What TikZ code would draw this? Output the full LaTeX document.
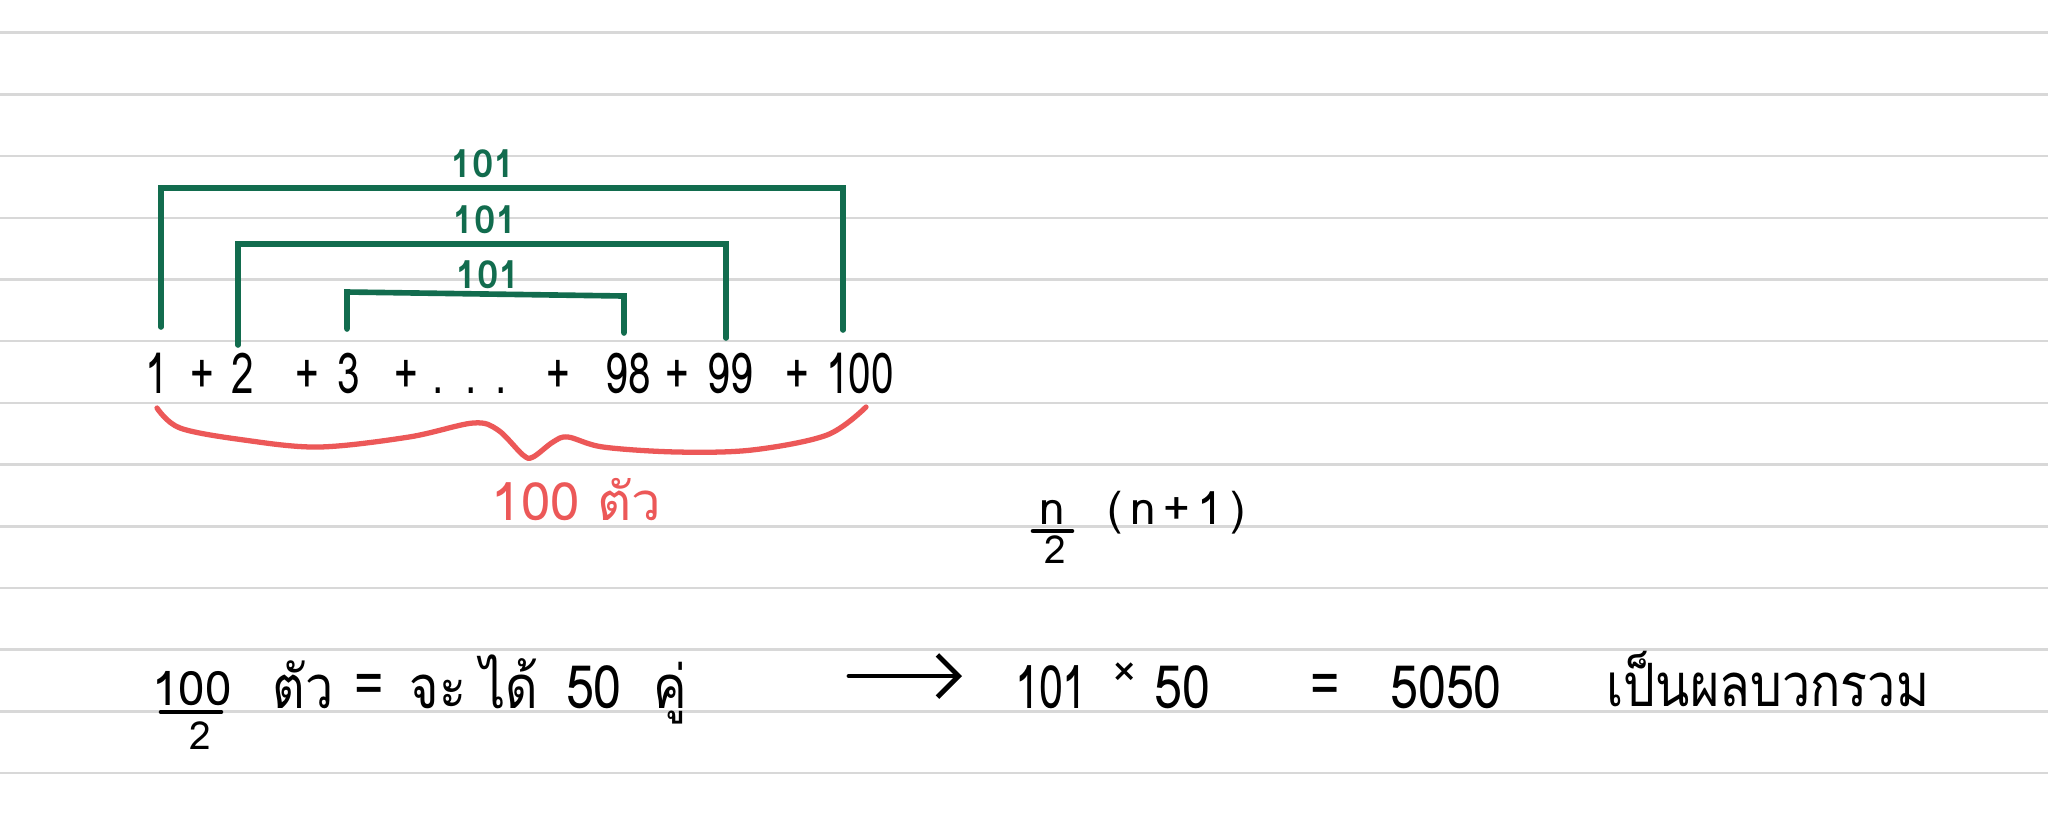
\documentclass[tikz,border=0pt]{standalone}
\usepackage{fontspec}
\setmainfont{Loma}[Script=Thai]
\newfontfamily\narrowfont{Loma}[Script=Thai,FakeStretch=0.72]
\newfontfamily\semifont{Loma}[Script=Thai,FakeStretch=0.84]
\usetikzlibrary{arrows.meta}
\definecolor{rulegray}{RGB}{216,216,216}
\definecolor{pgreen}{RGB}{18,108,78}
\definecolor{pred}{RGB}{236,88,88}
\begin{document}
\begin{tikzpicture}[x=0.01cm,y=-0.01cm,
  every node/.style={inner sep=0pt},
  term/.style={anchor=base,font=\narrowfont\fontsize{16}{16}\selectfont},
  lab/.style={anchor=base,text=pgreen,font=\fontsize{11}{11}\selectfont\bfseries},
  big/.style={anchor=base,font=\semifont\fontsize{17}{17}\selectfont},
  mid/.style={anchor=base,font=\fontsize{13}{13}\selectfont},
  small/.style={anchor=base,font=\fontsize{11}{11}\selectfont},
  bracket/.style={draw=pgreen,line width=1.6pt,line cap=round,line join=miter},
  fracbar/.style={draw=black,line width=1.3pt,line cap=round}]
\useasboundingbox[fill=white] (0,0) rectangle (2048,826);
\foreach \k in {0,...,12}
  \draw[rulegray,line width=0.7pt] (0,32.7+61.7*\k) -- (2048,32.7+61.7*\k);

% the sum
\node[term] (t1)   at (157,393) {1};
\node[term] (p1)   at (202,393) {+};
\node[term] (t2)   at (243,393) {2};
\node[term] (p2)   at (307,393) {+};
\node[term] (t3)   at (349,393) {3};
\node[term] (p3)   at (406,393) {+};
\node[term] (d1)   at (438,393) {.};
\node[term] (d2)   at (471,393) {.};
\node[term] (d3)   at (501,393) {.};
\node[term] (p4)   at (558,393) {+};
\node[term] (t98)  at (628,393) {98};
\node[term] (p5)   at (677,393) {+};
\node[term] (t99)  at (730,393) {99};
\node[term] (p6)   at (797,393) {+};
\node[term] (t100) at (860,393) {100};

% green pair brackets
\coordinate (oL) at (161,327); \coordinate (oT) at (843,188); \coordinate (oR) at (843,330);
\coordinate (mL) at (238,345); \coordinate (mT) at (726,244); \coordinate (mR) at (726,338);
\coordinate (iL) at (347,329); \coordinate (iTL) at (347,292); \coordinate (iTR) at (624,296); \coordinate (iR) at (624,333);
\draw[bracket] (oL) |- (oT) -- (oR);
\draw[bracket] (mL) |- (mT) -- (mR);
\draw[bracket] (iL) -- (iTL) -- (iTR) -- (iR);
\node[lab] (l1) at (483,177) {101};
\node[lab] (l2) at (485,233) {101};
\node[lab] (l3) at (488,288) {101};

% red brace
\draw[pred,line width=1.5pt,line cap=round] plot[smooth,tension=0.55] coordinates {
  (157,408) (180,428) (244,440) (319,447) (409,437) (473,423) (498,430)
  (523,455) (533,457) (553,442) (568,437) (603,447) (677,452) (752,450)
  (827,435) (866,407)};
\node[anchor=base west,text=pred,font=\fontsize{15}{15}\selectfont] (cnt) at (491,520) {100 ตัว};

% n/2 (n+1)
\node[mid] (fn) at (1052,524) {n};
\draw[fracbar] (1033,531) -- (1072,531);
\node[small] (fd) at (1055,563) {2};
\node[mid,anchor=base west] (np) at (1107,524) {(\,n\,+\,1\,)};

% bottom line
\node[anchor=base,font=\fontsize{13.5}{13.5}\selectfont] (bn) at (192,705) {100};
\draw[fracbar] (161,712) -- (221,712);
\node[small] (bd) at (200,749) {2};
\node[big] (tua) at (303,708) {ตัว};
\node[big] (eq1) at (369,704) {=};
\node[big] (jd) at (474,708) {จะ\hspace{4pt}ได้};
\node[big] (f50) at (594,708) {50};
\node[big] (ku) at (670,708) {คู่};
\coordinate (ar0) at (849,676); \coordinate (ar1) at (962,676);
\draw[line width=1.4pt,line cap=round,-{Straight Barb[length=6pt,width=12pt]}] (ar0) -- (ar1);
\node[term,font=\narrowfont\fontsize{17}{17}\selectfont] (r101) at (1051,708) {101};
\node[anchor=base] (tim) at (1125,686) {\fontsize{12}{12}\selectfont ×};
\node[big] (r50) at (1182,708) {50};
\node[big] (eq2) at (1325,704) {=};
\node[big] (r5050) at (1446,708) {5050};
\node[big,anchor=base west] (sum) at (1606,706) {เป็นผลบวกรวม};
\end{tikzpicture}
\end{document}
